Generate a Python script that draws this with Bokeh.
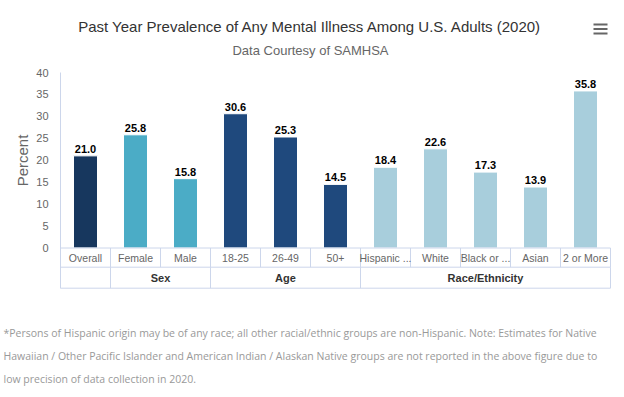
import math
from bokeh.plotting import figure
from bokeh.models import Range1d, ColumnDataSource
from bokeh.core.properties import value
from bokeh.embed import file_html
from bokeh.resources import INLINE

# ---- data ----
categories = ["Overall", "Female", "Male", "18-25", "26-49", "50+",
              "Hispanic ...", "White", "Black or ...", "Asian", "2 or More"]
percent = [21.0, 25.8, 15.8, 30.6, 25.3, 14.5, 18.4, 22.6, 17.3, 13.9, 35.8]
group_of = ["", "Sex", "Sex", "Age", "Age", "Age",
            "Race/Ethnicity", "Race/Ethnicity", "Race/Ethnicity", "Race/Ethnicity", "Race/Ethnicity"]
group_names = ["", "Sex", "Age", "Race/Ethnicity"]
group_colors = {"": "#17375e", "Sex": "#4bacc6", "Age": "#1f497d", "Race/Ethnicity": "#a8cedc"}
y_ticks = [0, 5, 10, 15, 20, 25, 30, 35, 40]
y_axis_title = "Percent"

title_text = "Past Year Prevalence of Any Mental Illness Among U.S. Adults (2020)"
subtitle_text = "Data Courtesy of SAMHSA"
footnote_lines = [
    "*Persons of Hispanic origin may be of any race; all other racial/ethnic groups are non-Hispanic. Note: Estimates for Native",
    "Hawaiian / Other Pacific Islander and American Indian / Alaskan Native groups are not reported in the above figure due to",
    "low precision of data collection in 2020.",
]

# ---- layout (reference pixel geometry) ----
FONT = "Liberation Sans"
W, H = 624, 397
PX_X = 50.0                       # px per category
PX_Y = (247.5 - 72.0) / 40.0      # px per percent unit
X0_FIG = 60.0                     # figure px of category 0 edge
Y0_FIG = 247.5                    # figure px of value 0


def rx(xref):
    return (xref - X0_FIG) / PX_X


def ry(yref):
    return (Y0_FIG - yref) / PX_Y


N = len(categories)
ROW1 = ry(266.7)
ROW2 = ry(287.7)
YTOP = max(y_ticks)

p = figure(width=W, height=H, output_backend="svg", toolbar_location=None,
           x_range=Range1d(-X0_FIG / PX_X, (W - X0_FIG) / PX_X),
           y_range=Range1d(-(H - Y0_FIG) / PX_Y, Y0_FIG / PX_Y),
           x_axis_location=None, y_axis_location=None)
p.min_border = 0
p.outline_line_color = None
p.grid.visible = False
p.background_fill_color = "white"
p.border_fill_color = "white"

lc = "#ccd6eb"

# y axis (line, tick labels, title)
p.segment(x0=[0], x1=[0], y0=[ROW2], y1=[YTOP], line_color=lc, line_width=1)
p.text(x=[rx(48)] * len(y_ticks), y=y_ticks, text=[str(t) for t in y_ticks],
       text_align="right", text_baseline="middle", text_font=value(FONT),
       text_font_size="11px", text_color="#666666")
p.text(x=[rx(22)], y=[ry(160)], text=[y_axis_title], angle=math.pi / 2,
       text_align="center", text_baseline="middle", text_font=value(FONT),
       text_font_size="15px", text_color="#666666")

# bars
xs = [i + 0.5 for i in range(N)]
cols = [group_colors[g] for g in group_of]
src = ColumnDataSource(dict(x=xs, top=percent, color=cols,
                            lab=["%.1f" % v for v in percent], cat=categories))
p.vbar(x="x", top="top", width=0.48, bottom=0, fill_color="color",
       line_color="white", line_width=1, source=src)
p.text(x="x", y="top", text="lab", source=src, text_align="center",
       text_baseline="bottom", y_offset=-3, text_font=value(FONT),
       text_font_size="11px", text_font_style="bold", text_color="#000000")

# category table
p.segment(x0=[0, 0, 0], x1=[N, N, N], y0=[0, ROW1, ROW2], y1=[0, ROW1, ROW2],
          line_color=lc, line_width=1)
p.segment(x0=list(range(N + 1)), x1=list(range(N + 1)), y0=[0] * (N + 1),
          y1=[ROW1] * (N + 1), line_color=lc, line_width=1)
bounds = [0]
for g in group_names:
    cnt = sum(1 for k in group_of if k == g)
    bounds.append(bounds[-1] + cnt)
p.segment(x0=bounds, x1=bounds, y0=[ROW1] * len(bounds), y1=[ROW2] * len(bounds),
          line_color=lc, line_width=1)
p.text(x="x", y=ROW1 / 2, text="cat", source=src, text_align="center",
       text_baseline="middle", text_font=value(FONT), text_font_size="10.5px",
       text_color="#666666")
gx = [(bounds[i] + bounds[i + 1]) / 2 for i in range(len(group_names))]
p.text(x=gx, y=[(ROW1 + ROW2) / 2] * len(gx), text=group_names, text_align="center",
       text_baseline="middle", text_font=value(FONT), text_font_size="11px",
       text_font_style="bold", text_color="#333333")

# titles
p.text(x=[rx(310)], y=[ry(26)], text=[title_text], text_align="center",
       text_baseline="middle", text_font=value(FONT), text_font_size="15px",
       text_color="#333333")
p.text(x=[rx(310)], y=[ry(50)], text=[subtitle_text], text_align="center",
       text_baseline="middle", text_font=value(FONT), text_font_size="13px",
       text_color="#666666")

# menu icon
p.segment(x0=[rx(593)] * 3, x1=[rx(607)] * 3, y0=[ry(24), ry(28.5), ry(33)],
          y1=[ry(24), ry(28.5), ry(33)], line_color="#666666", line_width=2)

# footnote
p.text(x=[rx(3)] * 3, y=[ry(332 + 23 * i) for i in range(3)], text=footnote_lines,
       text_align="left", text_baseline="middle", text_font=value("Open Sans"),
       text_font_size="10.5px", text_color="#999999")

open("out.html", "w").write(file_html(p, INLINE))
